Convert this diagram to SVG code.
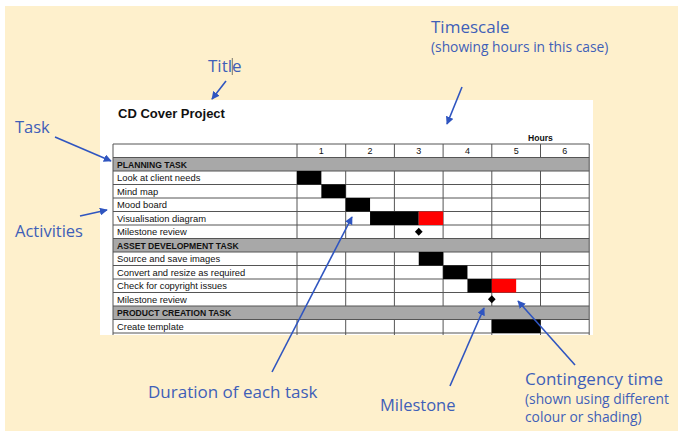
<svg xmlns="http://www.w3.org/2000/svg" width="678" height="431" viewBox="0 0 678 431">
<style>
.lbl{font-family:"Open Sans","Noto Sans",sans-serif;fill:#3F5FB8}
.big{font-size:17px}
.mid{font-size:16.5px}
.sm{font-size:13.8px}
.cell{font-family:"Liberation Sans",Arial,sans-serif;font-size:9.4px;fill:#111}
.sec{font-family:"Liberation Sans",Arial,sans-serif;font-size:8.6px;font-weight:bold;fill:#111}
.num{font-family:"Liberation Sans",Arial,sans-serif;font-size:9px;fill:#111;text-anchor:middle}
.grid{stroke:#555;stroke-width:1;fill:none}
.grey{fill:#A8A8A8}
.bar{fill:#000}
.red{fill:#FF0000}
.conn{stroke:#2F55C0;stroke-width:1.6;fill:none;marker-end:url(#ah)}
</style>
<defs>
<marker id="ah" viewBox="0 0 10 10" refX="9" refY="5" markerWidth="5" markerHeight="5" orient="auto" markerUnits="strokeWidth">
<path d="M0,0 L10,5 L0,10 z" fill="#2F55C0"/>
</marker>
</defs>
<rect x="0" y="0" width="678" height="431" fill="#FFFFFF"/>
<rect x="5" y="6" width="673" height="425" fill="#FEF0CC"/>
<rect x="100" y="100" width="493" height="235" fill="#FFFFFF"/>

<g id="chart">
<text x="118" y="118" font-family="Liberation Sans,Arial,sans-serif" font-size="13" font-weight="bold" fill="#111">CD Cover Project</text>
<text x="528" y="141" class="sec">Hours</text>

<!-- grey section rows -->
<rect class="grey" x="113" y="157.5" width="476.2" height="13.5"/>
<rect class="grey" x="113" y="238.5" width="476.2" height="13.5"/>
<rect class="grey" x="113" y="306" width="476.2" height="13.5"/>

<!-- grid -->
<g class="grid">
<path d="M113,144H589.2 M113,157.5H589.2 M113,171H589.2 M113,184.5H589.2 M113,198H589.2 M113,211.5H589.2 M113,225H589.2 M113,238.5H589.2 M113,252H589.2 M113,265.5H589.2 M113,279H589.2 M113,292.5H589.2 M113,306H589.2 M113,319.5H589.2 M113,333H589.2"/>
<path d="M113,144V335 M589.2,144V335"/>
<path d="M297,144V157.5 M297,171V238.5 M297,252V306 M297,319.5V335"/>
<path d="M345.7,144V157.5 M345.7,171V238.5 M345.7,252V306 M345.7,319.5V335"/>
<path d="M394.4,144V157.5 M394.4,171V238.5 M394.4,252V306 M394.4,319.5V335"/>
<path d="M443.1,144V157.5 M443.1,171V238.5 M443.1,252V306 M443.1,319.5V335"/>
<path d="M491.8,144V157.5 M491.8,171V238.5 M491.8,252V306 M491.8,319.5V335"/>
<path d="M540.5,144V157.5 M540.5,171V238.5 M540.5,252V306 M540.5,319.5V335"/>
</g>

<!-- bars -->
<g id="bars">
<rect class="bar" x="297" y="171" width="24.35" height="13.5"/>
<rect class="bar" x="321.35" y="184.5" width="24.35" height="13.5"/>
<rect class="bar" x="345.7" y="198" width="24.35" height="13.5"/>
<rect class="bar" x="370.05" y="211.5" width="48.7" height="13.5"/>
<rect class="red" x="418.75" y="211.5" width="24.35" height="13.5"/>
<rect class="bar" x="418.75" y="252" width="24.35" height="13.5"/>
<rect class="bar" x="443.1" y="265.5" width="24.35" height="13.5"/>
<rect class="bar" x="467.45" y="279" width="24.35" height="13.5"/>
<rect class="red" x="491.8" y="279" width="24.35" height="13.5"/>
<rect class="bar" x="491.8" y="319.5" width="48.7" height="13.5"/>
<path d="M418.75,227.8 L422.6,231.75 L418.75,235.7 L414.9,231.75 z" fill="#000"/>
<path d="M491.8,295.3 L495.65,299.25 L491.8,303.2 L487.95,299.25 z" fill="#000"/>
</g>

<!-- header numbers -->
<text class="num" x="321.35" y="154">1</text>
<text class="num" x="370.05" y="154">2</text>
<text class="num" x="418.75" y="154">3</text>
<text class="num" x="467.45" y="154">4</text>
<text class="num" x="516.15" y="154">5</text>
<text class="num" x="564.85" y="154">6</text>

<!-- row labels -->
<text class="sec" x="117" y="167.5">PLANNING TASK</text>
<text class="cell" x="117" y="181.3">Look at client needs</text>
<text class="cell" x="117" y="194.8">Mind map</text>
<text class="cell" x="117" y="208.3">Mood board</text>
<text class="cell" x="117" y="221.8">Visualisation diagram</text>
<text class="cell" x="117" y="235.3">Milestone review</text>
<text class="sec" x="117" y="248.5">ASSET DEVELOPMENT TASK</text>
<text class="cell" x="117" y="262.3">Source and save images</text>
<text class="cell" x="117" y="275.8">Convert and resize as required</text>
<text class="cell" x="117" y="289.3">Check for copyright issues</text>
<text class="cell" x="117" y="302.8">Milestone review</text>
<text class="sec" x="117" y="316">PRODUCT CREATION TASK</text>
<text class="cell" x="117" y="329.8">Create template</text>
</g>

<g id="label-title">
<text class="lbl" x="208" y="72" font-size="17">Title</text>
<line x1="232.3" y1="58" x2="232.3" y2="75" stroke="#555" stroke-width="0.8"/>
</g>
<g id="label-timescale">
<text class="lbl big" x="431" y="33">Timescale</text>
<text class="lbl sm" x="431" y="51.5">(showing hours in this case)</text>
</g>
<g id="label-task"><text class="lbl mid" x="15" y="133">Task</text></g>
<g id="label-activities"><text class="lbl mid" x="15" y="237">Activities</text></g>
<g id="label-duration"><text class="lbl big" x="148" y="398">Duration of each task</text></g>
<g id="label-milestone"><text class="lbl mid" x="380" y="411">Milestone</text></g>
<g id="label-contingency">
<text class="lbl big" x="525" y="385">Contingency time</text>
<text class="lbl sm" x="525" y="404">(shown using different</text>
<text class="lbl sm" x="525" y="422">colour or shading)</text>
</g>

<g id="connectors">
<line class="conn" x1="226" y1="81" x2="212" y2="99"/>
<line class="conn" x1="462" y1="87" x2="447" y2="124"/>
<line class="conn" x1="55" y1="137" x2="111" y2="161"/>
<line class="conn" x1="80" y1="216" x2="107" y2="210"/>
<line class="conn" x1="272" y1="372" x2="352" y2="217"/>
<line class="conn" x1="450" y1="386" x2="484" y2="308"/>
<line class="conn" x1="575" y1="365" x2="518" y2="301"/>
</g>
</svg>
